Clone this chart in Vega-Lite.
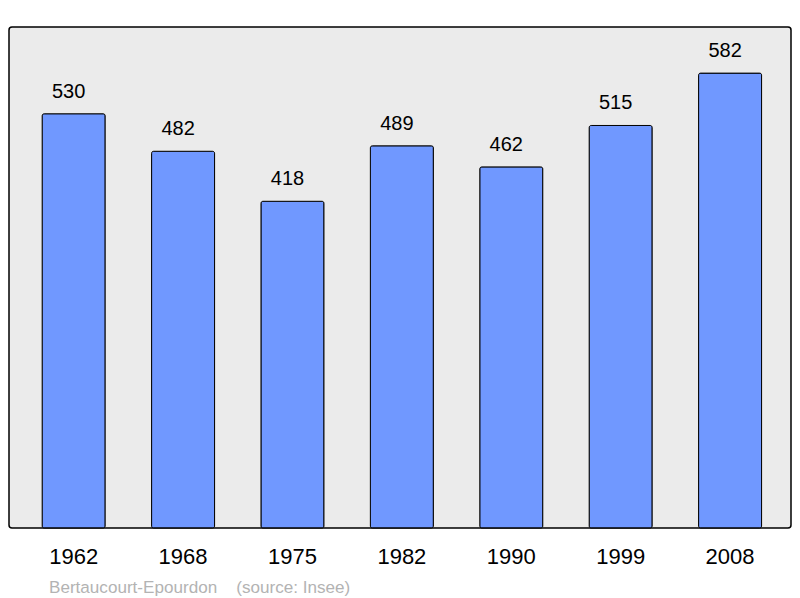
{
  "$schema": "https://vega.github.io/schema/vega-lite/v6.json",
  "width": 782,
  "height": 501,
  "autosize": {"type": "none"},
  "padding": {"left": 9, "top": 27, "right": 9, "bottom": 70},
  "background": "white",
  "config": {
    "view": {"fill": "#ebebeb", "stroke": "black", "strokeWidth": 1.5, "cornerRadius": 3},
    "font": "Liberation Sans"
  },
  "title": {
    "text": "Bertaucourt-Epourdon\u00a0\u00a0\u00a0\u00a0(source: Insee)",
    "orient": "bottom",
    "anchor": "start",
    "dx": 40,
    "offset": 12,
    "fontSize": 17.1,
    "fontWeight": "normal",
    "color": "#b3b3b3",
    "font": "Liberation Sans"
  },
  "data": {
    "values": [
      {"year": "1962", "pop": 530},
      {"year": "1968", "pop": 482},
      {"year": "1975", "pop": 418},
      {"year": "1982", "pop": 489},
      {"year": "1990", "pop": 462},
      {"year": "1999", "pop": 515},
      {"year": "2008", "pop": 582}
    ]
  },
  "encoding": {
    "x": {
      "field": "year",
      "type": "nominal",
      "sort": null,
      "scale": {"paddingInner": 0.424, "paddingOuter": 0.286, "align": 0.53},
      "axis": {
        "title": null,
        "domain": false,
        "ticks": false,
        "labelAngle": 0,
        "labelFontSize": 22,
        "labelColor": "black",
        "labelPadding": 18,
        "labelFont": "Liberation Sans"
      }
    },
    "y": {
      "field": "pop",
      "type": "quantitative",
      "scale": {"domain": [0, 641], "nice": false},
      "axis": null
    }
  },
  "layer": [
    {
      "mark": {"type": "bar", "fill": "#7098ff", "stroke": "black", "strokeWidth": 1, "cornerRadius": 2}
    },
    {
      "mark": {"type": "text", "baseline": "alphabetic", "dy": -16, "dx": -5, "fontSize": 20, "color": "black", "font": "Liberation Sans"},
      "encoding": {"text": {"field": "pop", "type": "quantitative"}}
    }
  ]
}
